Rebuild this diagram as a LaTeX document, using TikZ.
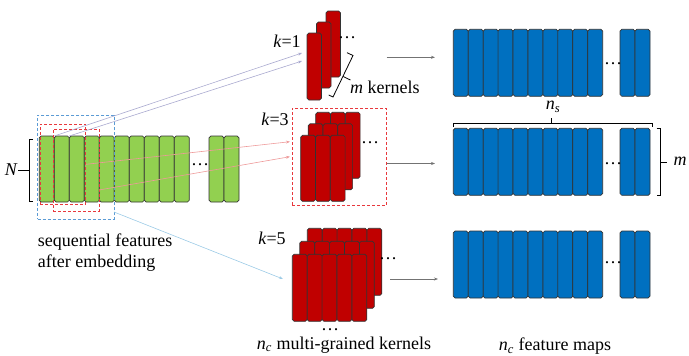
\documentclass[tikz,border=0pt]{standalone}
\usepackage{fontspec}
\setmainfont{Liberation Serif}
\newfontfamily\tnr{Liberation Serif}
\usetikzlibrary{arrows.meta}
\definecolor{gfill}{HTML}{92D050}
\definecolor{rfill}{HTML}{C00000}
\definecolor{bfill}{HTML}{0070C0}
\definecolor{dblue}{HTML}{5B9BD5}
\definecolor{dred}{HTML}{E8383D}
\definecolor{lav}{HTML}{A9A9CF}
\definecolor{lred}{HTML}{EE9A9A}
\definecolor{lblue}{HTML}{9CCBE6}
\begin{document}
\begin{tikzpicture}[x=1pt,y=-1pt,
  bar/.style={draw=black!80, line width=0.7pt, rounded corners=1.8pt, inner sep=0pt, outer sep=0pt, anchor=north west, minimum height=66pt},
  gbar/.style={bar, fill=gfill, minimum width=15pt},
  rbar/.style={bar, fill=rfill, minimum width=14.8pt},
  bbar/.style={bar, fill=bfill, minimum width=14.94pt, minimum height=67pt},
  dashbox/.style={dashed, line width=0.7pt, inner sep=0pt, outer sep=0pt, anchor=north west, dash pattern=on 3pt off 2pt},
  lbl/.style={font=\tnr\fontsize{18}{21.6}\selectfont, inner sep=0pt},
  thinarrow/.style={line width=0.6pt, -{Stealth[length=4pt,width=3pt]}},
  brk/.style={line width=0.8pt, black}
  ]
\useasboundingbox (0,0) rectangle (689,356);

% green sequential features
\foreach \i in {0,...,9} \node[gbar] (g\i) at ({39.3+15*\i},136) {};
\node[gbar] (g10) at (209,136) {};
\node[gbar] (g11) at (224,136) {};
\node[lbl] (gdots) at (200,165) {…};

% N bracket
\node[lbl, font=\tnr\fontsize{18}{21.6}\selectfont\itshape] (Nl) at (11,170) {N};
\coordinate (Nb) at (29.3,170);
\draw[brk] (33,139) -- (29.3,139) -- (29.3,201) -- (33,201);
\draw[brk] (Nl.east) ++(1,0) -- (Nb);

% window boxes
\node[dashbox, draw=dblue, minimum width=76.3pt, minimum height=104pt] (winb) at (37.7,115) {};
\node[dashbox, draw=dred, minimum width=45.7pt, minimum height=80.7pt] (winr1) at (40,124) {};
\node[dashbox, draw=dred, minimum width=46pt, minimum height=82pt] (winr2) at (53,129) {};

% k=1 kernels
\node[rbar, minimum width=14.5pt] (k1c) at (326,11) {};
\node[rbar, minimum width=14.5pt] (k1b) at (316.5,22) {};
\node[rbar, minimum width=14.5pt, minimum height=67pt] (k1a) at (307,33) {};
\node[lbl] (k1l) at (287,41) {\textit{k}=1};
\node[lbl] (k1d) at (347,38) {…};
% m kernels bracket
\draw[brk] (347,52.7) -- (353,55.5) -- (333,97) -- (328.7,95);
\draw[brk] (343.2,76.5) -- (350.4,80);
\node[lbl, anchor=west] (mk) at (350,87) {\textit{m} kernels};

% k=3 kernels
\node[dashbox, draw=dred, minimum width=94.7pt, minimum height=96.7pt] (k3box) at (292,108.3) {};
\foreach \r/\dx/\dy in {c/315.7/112.3, b/308.2/123.8, a/300.7/135.3}
  \foreach \j in {0,1,2}
    \node[rbar] (k3\r\j) at ({\dx+14.8*\j},\dy) {};
\node[lbl] (k3l) at (275,119) {\textit{k}=3};
\node[lbl] (k3d) at (370,143) {…};

% k=5 kernels
\foreach \r/\dx/\dy in {c/307.3/228.3, b/299.8/241.3, a/292.3/254.3}
  \foreach \j in {0,...,4}
    \node[rbar, minimum width=14.9pt, minimum height=67pt] (k5\r\j) at ({\dx+14.9*\j},\dy) {};
\node[lbl] (k5l) at (272,238) {\textit{k}=5};
\node[lbl] (k5d) at (388,259) {…};
\node[lbl] (k5dd) at (330,330) {…};
\node[lbl] (kcap) at (344,345) {\textit{n}\textsubscript{\textit{c}} multi-grained kernels};

% feature maps
\foreach \r/\y in {1/29.3, 2/128.3, 3/231} {
  \foreach \j in {0,...,9}
    \node[bbar] (f\r-\j) at ({453.3+14.94*\j},\y) {};
  \node[bbar, minimum width=15pt] (f\r-10) at (620,\y) {};
  \node[bbar, minimum width=15pt] (f\r-11) at (635,\y) {};
}
\node[lbl] (fd1) at (613,64) {…};
\node[lbl] (fd2) at (613,164) {…};
\node[lbl] (fd3) at (613,262.5) {…};
\node[lbl] (fcap) at (555,346) {\textit{n}\textsubscript{\textit{c}} feature maps};

% n_s bracket
\draw[brk] (453.3,126.5) -- (453.3,123.3) -- (652.7,123.3) -- (652.7,126.5);
\coordinate (nsb) at (551.7,123.3);
\node[lbl] (nsl) at (553,107) {\textit{n}\textsubscript{\textit{s}}};
\draw[brk] (nsb) -- ++(0,-5.5);
% m bracket
\draw[brk] (656.5,128.3) -- (660,128.3) -- (660,195.3) -- (656.5,195.3);
\coordinate (mb) at (660,162);
\node[lbl, font=\tnr\fontsize{18}{21.6}\selectfont\itshape] (ml) at (680,161) {m};
\draw[brk] (mb) -- ++(7,0);

% connectors from windows to kernels
\coordinate (t1a) at (302,53);
\coordinate (t1b) at (302,61);
\draw[lav, thinarrow] (g1.north west) -- (t1a);
\draw[lav, thinarrow] (g1.north east) -- (t1b);
\coordinate (s3b) at (99,190);
\coordinate (t3a) at (290,141.7);
\coordinate (t3b) at (290,156.7);
\draw[lred, thinarrow] (winr1.east) -- (t3a);
\draw[lred, thinarrow] (s3b) -- (t3b);
\coordinate (s5) at (114,212);
\coordinate (t5) at (283,279);
\draw[lblue, thinarrow] (s5) -- (t5);

% kernels to feature maps
\coordinate (r1s) at (386.7,57.3);
\coordinate (r1t) at (435,57.3);
\coordinate (r2t) at (435,163.5);
\coordinate (r3s) at (390,279);
\coordinate (r3t) at (438,279);
\draw[black!55, thinarrow] (r1s) -- (r1t);
\draw[black!55, thinarrow] (k3box.east |- r2t) -- (r2t);
\draw[black!55, thinarrow] (r3s) -- (r3t);

% left caption
\node[lbl, anchor=west, align=left] (seq) at (37.7,252.5) {sequential features\\after embedding};
\end{tikzpicture}
\end{document}
